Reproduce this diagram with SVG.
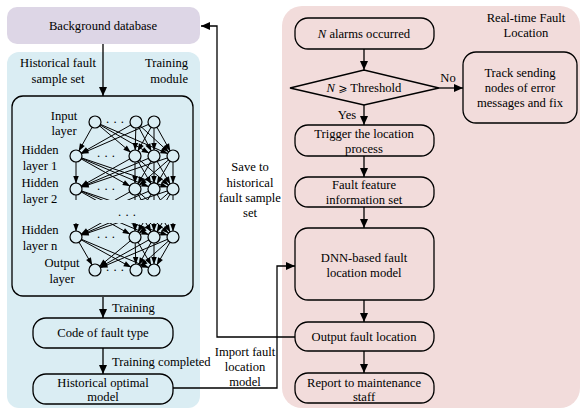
<svg xmlns="http://www.w3.org/2000/svg" width="584" height="409" viewBox="0 0 584 409">
<style>
text{font-family:"Liberation Serif","Times New Roman",serif;font-size:12.6px;fill:#000}
.m{text-anchor:middle}
.box{stroke:#000;stroke-width:1.3}
.blue{fill:#daedf3}
.pink{fill:#f2dcdb}
.c{stroke:#000;stroke-width:1.3;fill:none;marker-end:url(#ah)}
.n{stroke:#000;stroke-width:1;fill:none;marker-end:url(#nh)}
.nc{fill:#daedf3;stroke:#000;stroke-width:1.2}
</style>
<defs>
<marker id="ah" markerWidth="10" markerHeight="8" refX="9" refY="4" orient="auto" markerUnits="userSpaceOnUse"><path d="M0,0 L9,4 L0,8 z" fill="#000"/></marker>
<marker id="nh" markerWidth="14" markerHeight="6" refX="13" refY="2.75" orient="auto" markerUnits="userSpaceOnUse" overflow="visible"><path d="M0,0 L7.5,2.75 L0,5.5 z" fill="#000"/></marker>
<clipPath id="cA"><rect x="10" y="180" width="190" height="20"/></clipPath>
<clipPath id="cB"><rect x="10" y="223" width="190" height="20"/></clipPath>
</defs>

<!-- panels -->
<g id="training-panel">
<rect x="7" y="52" width="193" height="356" rx="12" fill="#daedf3"/>
<text x="58" y="67" class="m">Historical fault</text>
<text x="58" y="83" class="m">sample set</text>
<text x="188" y="67" text-anchor="end">Training</text>
<text x="188" y="83" text-anchor="end">module</text>
</g>
<g id="realtime-panel">
<rect x="282" y="6" width="298" height="402" rx="20" fill="#f2dcdb"/>
<text x="526" y="22" class="m">Real-time Fault</text>
<text x="526" y="37" class="m">Location</text>
</g>

<g id="background-database">
<rect x="7" y="7" width="193" height="37" rx="10" fill="#ddd6e6"/>
<text x="103" y="30" class="m">Background database</text>
</g>

<!-- DNN training network -->
<g id="nn-box">
<rect class="box blue" x="12" y="96" width="181" height="200" rx="11"/>
<text x="64" y="120" class="m">Input</text>
<text x="64" y="135" class="m">layer</text>
<text x="40" y="154" class="m">Hidden</text>
<text x="40" y="170" class="m">layer 1</text>
<text x="40" y="187" class="m">Hidden</text>
<text x="40" y="203" class="m">layer 2</text>
<text x="40" y="234" class="m">Hidden</text>
<text x="40" y="250" class="m">layer n</text>
<text x="62" y="267" class="m">Output</text>
<text x="62" y="283" class="m">layer</text>
<g id="nn-edges">
<path class="n" d="M95 122L76 156"/><path class="n" d="M95 122L135 156"/><path class="n" d="M95 122L154 156"/><path class="n" d="M95 122L173 156"/>
<path class="n" d="M136 122L76 156"/><path class="n" d="M136 122L135 156"/><path class="n" d="M136 122L154 156"/><path class="n" d="M136 122L173 156"/>
<path class="n" d="M154 122L76 156"/><path class="n" d="M154 122L135 156"/><path class="n" d="M154 122L154 156"/><path class="n" d="M154 122L173 156"/>
<path class="n" d="M76 156L76 189"/><path class="n" d="M76 156L135 189"/><path class="n" d="M76 156L154 189"/><path class="n" d="M76 156L173 189"/>
<path class="n" d="M135 156L76 189"/><path class="n" d="M135 156L135 189"/><path class="n" d="M135 156L154 189"/><path class="n" d="M135 156L173 189"/>
<path class="n" d="M154 156L76 189"/><path class="n" d="M154 156L135 189"/><path class="n" d="M154 156L154 189"/><path class="n" d="M154 156L173 189"/>
<path class="n" d="M173 156L76 189"/><path class="n" d="M173 156L135 189"/><path class="n" d="M173 156L154 189"/><path class="n" d="M173 156L173 189"/>
<g clip-path="url(#cA)">
<path class="n" d="M76 189L76 222"/><path class="n" d="M76 189L135 222"/><path class="n" d="M76 189L154 222"/><path class="n" d="M76 189L173 222"/>
<path class="n" d="M135 189L76 222"/><path class="n" d="M135 189L135 222"/><path class="n" d="M135 189L154 222"/><path class="n" d="M135 189L173 222"/>
<path class="n" d="M154 189L76 222"/><path class="n" d="M154 189L135 222"/><path class="n" d="M154 189L154 222"/><path class="n" d="M154 189L173 222"/>
<path class="n" d="M173 189L76 222"/><path class="n" d="M173 189L135 222"/><path class="n" d="M173 189L154 222"/><path class="n" d="M173 189L173 222"/>
</g>
<g clip-path="url(#cB)">
<path class="n" d="M76 204L76 237"/><path class="n" d="M76 204L135 237"/><path class="n" d="M76 204L154 237"/><path class="n" d="M76 204L173 237"/>
<path class="n" d="M135 204L76 237"/><path class="n" d="M135 204L135 237"/><path class="n" d="M135 204L154 237"/><path class="n" d="M135 204L173 237"/>
<path class="n" d="M154 204L76 237"/><path class="n" d="M154 204L135 237"/><path class="n" d="M154 204L154 237"/><path class="n" d="M154 204L173 237"/>
<path class="n" d="M173 204L76 237"/><path class="n" d="M173 204L135 237"/><path class="n" d="M173 204L154 237"/><path class="n" d="M173 204L173 237"/>
</g>
<path class="n" d="M76 237L95 270"/><path class="n" d="M76 237L136 270"/><path class="n" d="M76 237L154 270"/>
<path class="n" d="M135 237L95 270"/><path class="n" d="M135 237L136 270"/><path class="n" d="M135 237L154 270"/>
<path class="n" d="M154 237L95 270"/><path class="n" d="M154 237L136 270"/><path class="n" d="M154 237L154 270"/>
<path class="n" d="M173 237L95 270"/><path class="n" d="M173 237L136 270"/><path class="n" d="M173 237L154 270"/>
</g>
<g id="nn-nodes">
<circle class="nc" cx="95" cy="122" r="6"/><circle class="nc" cx="136" cy="122" r="6"/><circle class="nc" cx="154" cy="122" r="6"/>
<circle class="nc" cx="76" cy="156" r="6"/><circle class="nc" cx="135" cy="156" r="6"/><circle class="nc" cx="154" cy="156" r="6"/><circle class="nc" cx="173" cy="156" r="6"/>
<circle class="nc" cx="76" cy="189" r="6"/><circle class="nc" cx="135" cy="189" r="6"/><circle class="nc" cx="154" cy="189" r="6"/><circle class="nc" cx="173" cy="189" r="6"/>
<circle class="nc" cx="76" cy="237" r="6"/><circle class="nc" cx="135" cy="237" r="6"/><circle class="nc" cx="154" cy="237" r="6"/><circle class="nc" cx="173" cy="237" r="6"/>
<circle class="nc" cx="95" cy="270" r="6"/><circle class="nc" cx="136" cy="270" r="6"/><circle class="nc" cx="154" cy="270" r="6"/>
<text x="115" y="126" class="m">· · ·</text>
<text x="106" y="160" class="m">· · ·</text>
<text x="106" y="193" class="m">· · ·</text>
<text x="127" y="219" class="m">· · ·</text>
<text x="106" y="241" class="m">· · ·</text>
<text x="115" y="274" class="m">· · ·</text>
</g>
</g>

<g id="code-fault-type">
<rect class="box blue" x="33" y="318" width="140" height="30" rx="13"/>
<text x="103" y="337" class="m">Code of fault type</text>
</g>
<g id="historical-optimal-model">
<rect class="box blue" x="33" y="374" width="140" height="30" rx="13"/>
<text x="103" y="387" class="m">Historical optimal</text>
<text x="103" y="401" class="m">model</text>
</g>

<g id="n-alarms">
<rect class="box pink" x="295" y="18" width="139" height="31" rx="13"/>
<text x="364" y="38" class="m"><tspan font-style="italic">N</tspan> alarms occurred</text>
</g>
<g id="threshold">
<path class="box pink" d="M290 88L364 70L439 88L364 105Z"/>
<text x="364" y="92" class="m"><tspan font-style="italic">N</tspan> <tspan font-family="DejaVu Sans, sans-serif" font-size="11">⩾</tspan> Threshold</text>
</g>
<g id="track-nodes">
<rect class="box pink" x="463" y="52" width="114" height="71" rx="13"/>
<text x="520" y="77" class="m">Track  sending</text>
<text x="520" y="92" class="m">nodes of error</text>
<text x="520" y="107" class="m">messages  and fix</text>
</g>
<g id="trigger">
<rect class="box pink" x="295" y="125" width="139" height="31" rx="13"/>
<text x="364" y="138" class="m">Trigger the location</text>
<text x="364" y="153" class="m">process</text>
</g>
<g id="fault-feature">
<rect class="box pink" x="295" y="177" width="139" height="30" rx="13"/>
<text x="364" y="189" class="m">Fault feature</text>
<text x="364" y="204" class="m">information set</text>
</g>
<g id="dnn-model">
<rect class="box pink" x="295" y="228" width="139" height="72" rx="13"/>
<text x="364" y="262" class="m">DNN-based fault</text>
<text x="364" y="277" class="m">location model</text>
</g>
<g id="output-location">
<rect class="box pink" x="295" y="322" width="139" height="29" rx="13"/>
<text x="364" y="341" class="m">Output fault location</text>
</g>
<g id="report">
<rect class="box pink" x="295" y="373" width="139" height="30" rx="13"/>
<text x="364" y="387" class="m">Report to maintenance</text>
<text x="364" y="401" class="m">staff</text>
</g>

<g id="connectors">
<path class="c" d="M103 44V96"/>
<path class="c" d="M103 297V318"/>
<path class="c" d="M103 348V374"/>
<path class="c" d="M173 388H277V266H295"/>
<path class="c" d="M295 337H217V26H201"/>
<path class="c" d="M364 49V70"/>
<path class="c" d="M364 105V125"/>
<path class="c" d="M439 88H463"/>
<path class="c" d="M364 156V177"/>
<path class="c" d="M364 207V228"/>
<path class="c" d="M364 300V322"/>
<path class="c" d="M364 351V373"/>
<text x="112" y="312">Training</text>
<text x="112" y="366">Training completed</text>
<text x="245" y="356" class="m">Import fault</text>
<text x="245" y="371" class="m">location</text>
<text x="245" y="386" class="m">model</text>
<text x="250" y="171" class="m">Save to</text>
<text x="250" y="187" class="m">historical</text>
<text x="250" y="202" class="m">fault sample</text>
<text x="250" y="217" class="m">set</text>
<text x="448" y="82" class="m">No</text>
<text x="347" y="119" class="m">Yes</text>
</g>
</svg>
